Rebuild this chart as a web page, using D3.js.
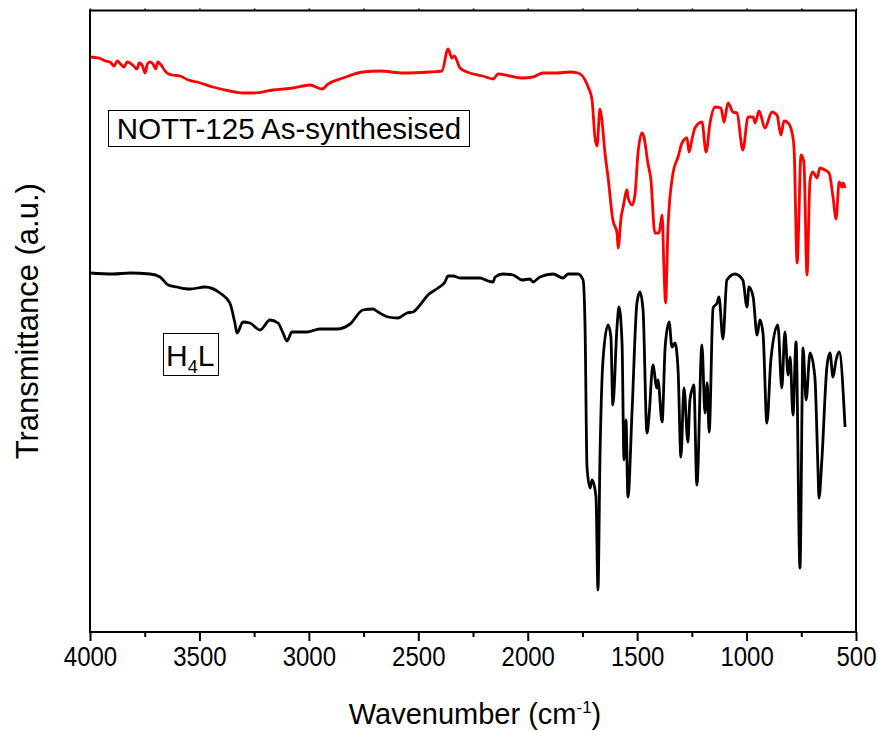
<!DOCTYPE html>
<html>
<head>
<meta charset="utf-8">
<script src="https://cdn.jsdelivr.net/npm/d3@7"></script>
<style>
  html, body { margin: 0; padding: 0; background: #fff; }
  svg { display: block; }
  text { font-family: "Liberation Sans", Arial, Helvetica, sans-serif; fill: #000; }
</style>
</head>
<body>
<svg id="chart" width="878" height="731"></svg>
<script>
// ---- data (wavenumber cm^-1, transmittance a.u.) ----
const xTickValues = [4000, 3500, 3000, 2500, 2000, 1500, 1000, 500];
const xMinorTickValues = [3750, 3250, 2750, 2250, 1750, 1250, 750];
const seriesNames = ["NOTT-125 As-synthesised", "H4L"];

const redSpectrum = [
  [4000,57.5],[3960,57.4],[3930,57.1],[3909,57.0],[3890,56.6],[3875,57.1],[3860,56.8],[3845,56.5],
  [3830,57.0],[3817,56.9],[3800,56.6],[3785,56.3],[3775,56.9],[3760,56.6],[3748,55.9],[3738,56.8],
  [3725,57.0],[3712,56.8],[3700,56.3],[3690,57.0],[3675,56.7],[3660,56.2],[3648,55.9],[3625,55.7],
  [3589,55.6],[3550,55.2],[3511,55.0],[3438,54.5],[3361,54.1],
  [3300,53.9],[3255,53.9],[3164,54.2],[3072,54.4],[2995,54.7],[2940,54.3],[2912,54.8],[2844,55.4],
  [2753,56.0],[2675,56.1],[2570,55.9],[2450,56.0],[2392,56.1],[2364,58.3],[2346,57.4],[2336,57.6],
  [2309,56.4],[2277,56.0],[2205,55.6],[2158,55.3],[2135,55.8],[2081,55.6],[2026,55.4],[1976,55.5],
  [1930,55.9],[1866,55.9],[1807,56.0],[1770,55.9],[1738,55.2],[1724,54.5],[1706,53.2],[1693,49.5],
  [1683,48.6],[1670,52.3],[1661,51.2],[1647,47.9],[1633,45.5],[1611,41.2],[1592,39.9],[1587,38.4],
  [1573,41.5],[1564,42.5],[1546,44.2],[1542,43.5],[1523,42.7],[1510,43.7],[1496,47.9],[1478,49.9],
  [1469,49.5],[1451,46.9],[1437,45.2],[1419,39.9],[1400,39.9],[1386,41.7],[1377,36.0],[1370,32.9],
  [1359,40.5],[1336,45.9],[1313,47.5],[1295,48.9],[1272,49.4],[1263,48.0],[1250,49.2],[1236,50.4],
  [1204,51.0],[1185,48.0],[1167,50.9],[1144,52.5],[1117,52.4],[1103,51.0],[1085,52.9],[1062,52.0],
  [1044,51.9],[1017,48.2],[993,51.5],[970,51.5],[961,50.9],[943,52.1],[916,50.4],[884,52.0],
  [861,51.7],[843,49.7],[829,51.1],[810,50.9],[792,49.9],[783,48.4],[769,36.9],[751,47.7],
  [738,47.0],[724,35.7],[710,45.2],[697,46.0],[678,45.4],[665,46.4],[642,46.2],[623,45.9],
  [605,43.5],[591,41.3],[577,45.0],[564,44.5],[559,44.9],[550,44.4]
];

const blackSpectrum = [
  [4000,35.9],[3895,35.8],[3817,35.9],[3726,35.8],[3680,35.5],[3643,34.7],[3603,34.5],[3543,34.3],
  [3474,34.5],[3406,33.9],[3361,32.9],[3338,30.9],[3328,29.9],[3301,31.0],[3269,30.9],[3223,30.2],
  [3178,31.2],[3141,30.9],[3118,29.9],[3100,29.1],[3077,30.0],[3009,30.0],[2950,30.3],[2871,30.3],
  [2812,30.8],[2753,32.2],[2707,32.3],[2684,32.0],[2638,31.5],[2593,31.4],[2552,31.9],[2524,32.0],
  [2492,32.7],[2456,33.7],[2410,34.4],[2378,35.0],[2364,35.6],[2341,35.6],[2309,35.4],[2218,35.4],
  [2182,35.1],[2158,35.0],[2149,35.5],[2113,35.8],[2067,35.7],[2026,35.2],[1990,35.3],[1976,35.0],
  [1944,35.5],[1884,35.8],[1839,35.4],[1816,35.8],[1770,35.8],[1747,35.2],[1738,30.5],[1729,16.5],
  [1715,14.4],[1706,15.2],[1688,13.5],[1679,4.2],[1670,17.2],[1656,27.2],[1633,30.7],[1620,29.5],
  [1611,22.7],[1592,30.5],[1583,32.5],[1569,28.9],[1560,17.2],[1551,21.2],[1542,13.5],[1523,22.2],
  [1501,32.9],[1487,34.0],[1473,32.2],[1455,19.9],[1446,21.5],[1428,26.7],[1410,24.4],[1405,25.2],
  [1386,21.0],[1372,28.5],[1354,31.0],[1341,28.5],[1327,28.9],[1313,26.2],[1300,17.5],[1286,24.4],
  [1268,19.0],[1259,23.2],[1245,24.5],[1241,24.7],[1227,14.7],[1204,28.7],[1190,21.9],[1180,24.9],
  [1171,20.0],[1153,32.4],[1135,32.9],[1126,33.5],[1108,29.3],[1090,35.2],[1053,35.8],[1017,35.2],
  [998,32.5],[989,34.5],[970,33.5],[952,29.7],[939,31.2],[925,29.9],[907,20.9],[889,27.2],
  [857,30.7],[839,24.4],[825,30.0],[810,25.7],[801,27.5],[788,21.7],[774,29.0],[756,6.4],
  [742,28.4],[728,23.2],[710,27.9],[688,25.5],[674,16.5],[669,13.4],[656,17.2],[633,26.5],
  [619,27.9],[605,25.5],[591,27.2],[577,28.0],[550,20.5]
];

// ---- layout ----
const svg = d3.select("#chart");
const plotLeft = 90, plotRight = 856, plotTop = 10.5, plotBottom = 632;

const x = d3.scaleLinear().domain([4000, 500]).range([plotLeft, plotRight]);
const y = d3.scaleLinear().domain([0, 62.15]).range([plotBottom, plotTop]);

// spectra
const line = d3.line()
  .x(d => x(d[0]))
  .y(d => y(d[1]))
  .curve(d3.curveMonotoneX);

svg.append("path").datum(redSpectrum)
  .attr("d", line).attr("fill", "none")
  .attr("stroke", "#ff0000").attr("stroke-width", 2.8)
  .attr("stroke-linejoin", "round");

svg.append("path").datum(blackSpectrum)
  .attr("d", line).attr("fill", "none")
  .attr("stroke", "#000").attr("stroke-width", 2.8)
  .attr("stroke-linejoin", "round");

// frame
svg.append("rect")
  .attr("x", plotLeft).attr("y", plotTop)
  .attr("width", plotRight - plotLeft).attr("height", plotBottom - plotTop)
  .attr("fill", "none").attr("stroke", "#000").attr("stroke-width", 2);

// bottom axis: major ticks
const xAxis = d3.axisBottom(x).tickValues(xTickValues)
  .tickSize(9).tickPadding(8).tickFormat(d3.format("d"));
const gx = svg.append("g").attr("transform", `translate(0,${plotBottom})`).call(xAxis);
gx.select(".domain").remove();
gx.selectAll(".tick line").attr("stroke", "#000").attr("stroke-width", 2);
gx.selectAll(".tick text")
  .attr("font-size", 25).attr("font-family", "'Liberation Sans', Arial, sans-serif")
  .attr("transform", "scale(0.96,1.12)").attr("dy", "0.55em");

// bottom axis: minor ticks
const xMinor = d3.axisBottom(x).tickValues(xMinorTickValues).tickSize(5).tickFormat("");
const gxm = svg.append("g").attr("transform", `translate(0,${plotBottom})`).call(xMinor);
gxm.select(".domain").remove();
gxm.selectAll(".tick line").attr("stroke", "#000").attr("stroke-width", 2);

// top axis: small minor ticks
const xTop = d3.axisTop(x).tickValues(xTickValues.concat(xMinorTickValues)).tickSize(2).tickFormat("");
const gxt = svg.append("g").attr("transform", `translate(0,${plotTop})`).call(xTop);
gxt.select(".domain").remove();
gxt.selectAll(".tick line").attr("stroke", "#000").attr("stroke-width", 1.5);

// axis titles
const xt = svg.append("text")
  .attr("x", (plotLeft + plotRight) / 2 + 2).attr("y", 724)
  .attr("text-anchor", "middle").attr("font-size", 29);
xt.append("tspan").text("Wavenumber (cm");
xt.append("tspan").attr("dy", -11).attr("font-size", 17).text("-1");
xt.append("tspan").attr("dy", 11).text(")");

svg.append("text")
  .attr("transform", `translate(38,${(plotTop + plotBottom) / 2}) rotate(-90)`)
  .attr("text-anchor", "middle").attr("font-size", 31)
  .text("Transmittance (a.u.)");

// legend labels
const lab1 = svg.append("g");
lab1.append("rect").attr("x", 108.5).attr("y", 110.5).attr("width", 361).attr("height", 36)
  .attr("fill", "#fff").attr("stroke", "#000").attr("stroke-width", 1);
lab1.append("text").attr("x", 289).attr("y", 139).attr("text-anchor", "middle")
  .attr("font-size", 29.5).text(seriesNames[0]);

const lab2 = svg.append("g");
lab2.append("rect").attr("x", 163.5).attr("y", 333.5).attr("width", 55).attr("height", 42)
  .attr("fill", "#fff").attr("stroke", "#000").attr("stroke-width", 1);
const t2 = lab2.append("text").attr("x", 166).attr("y", 366).attr("font-size", 30);
t2.append("tspan").text("H");
t2.append("tspan").attr("dy", 7).attr("font-size", 18).text("4");
t2.append("tspan").attr("dy", -7).text("L");
</script>
</body>
</html>
